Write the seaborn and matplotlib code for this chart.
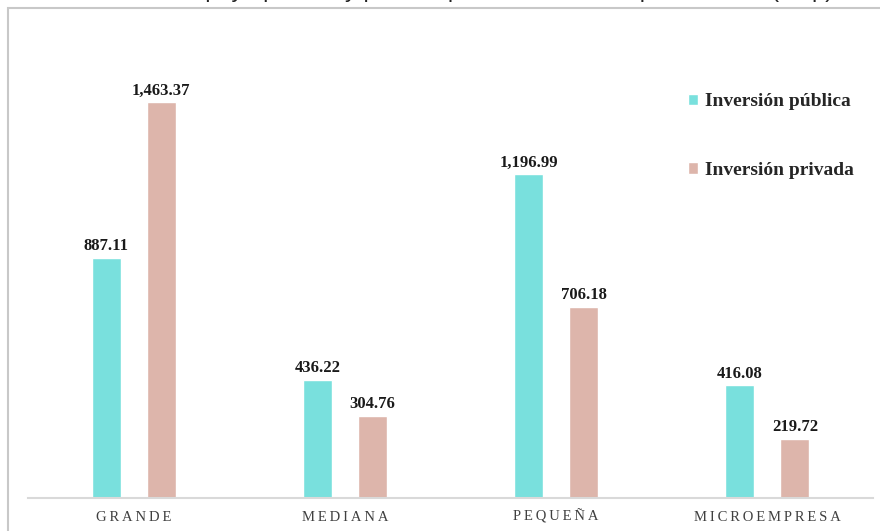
import matplotlib
matplotlib.use('Agg')
import matplotlib.pyplot as plt
import pandas as pd
import seaborn as sns
from matplotlib.patches import Rectangle

categorias = ['GRANDE', 'MEDIANA', 'PEQUEÑA', 'MICROEMPRESA']
publica = [887.11, 436.22, 1196.99, 416.08]
privada = [1463.37, 304.76, 706.18, 219.72]
series = ['Inversión pública', 'Inversión privada']
colores = ['#79E0DD', '#DDB5AB']

df = pd.DataFrame({
    'categoria': categorias * 2,
    'serie': [series[0]] * 4 + [series[1]] * 4,
    'monto': publica + privada,
})

sns.set_style('white')
serif = ['Liberation Serif', 'DejaVu Serif']

fig = plt.figure(figsize=(8.8, 5.31), dpi=100)
ax = fig.add_axes([28 / 880, 33 / 531, 845 / 880, 458 / 531])

sns.barplot(data=df, x='categoria', y='monto', hue='serie', hue_order=series,
            order=categorias, palette=colores, width=0.52, gap=0.47,
            saturation=1, ax=ax)

ax.set_xlim(-0.5, 3.5)
ax.set_ylim(0, 458 / 0.2706)

# etiquetas de valor
for p in ax.patches:
    h = p.get_height()
    if h > 0:
        ax.annotate(f'{h:,.2f}', xy=(p.get_x() + p.get_width() / 2, h),
                    xytext=(0, 2.5), textcoords='offset points',
                    ha='center', va='bottom', fontsize=12,
                    fontweight='bold', family=serif, color='#1a1a1a')

ax.set_xticks(range(len(categorias)))
ax.set_xticklabels(['\u2009'.join(c) for c in categorias], family=serif,
                   fontsize=10.5, color='#404040')
for t in ax.get_xticklabels():
    t.set_verticalalignment('baseline')
ax.tick_params(axis='x', length=0, pad=16.5)
ax.set_yticks([])
ax.set_xlabel('')
ax.set_ylabel('')
for s in ['top', 'left', 'right']:
    ax.spines[s].set_visible(False)
ax.spines['bottom'].set_color('#D9D9D9')
ax.spines['bottom'].set_linewidth(1.5)

leg = ax.legend(loc='upper left', bbox_to_anchor=(670 / 880, 1 - 76 / 531),
                bbox_transform=fig.transFigure, frameon=False,
                handlelength=0.55, handleheight=0.55, handletextpad=0.35,
                labelspacing=2.65, prop={'family': serif, 'weight': 'bold', 'size': 14})

# marco gris
fig.patches.append(Rectangle((8 / 880, -0.1), 1.0, 1 - 8 / 531 + 0.1,
                             transform=fig.transFigure, fill=False,
                             edgecolor='#C8C8C8', linewidth=1.5))

# titulo (recortado en la imagen original)
fig.text(454 / 880, 1.0 + 3 / 531, 'Montos de apoyo público y privado por tamaño de empresa, 2016 (mdp)',
         ha='center', va='baseline', fontsize=17, family='Liberation Sans', color='#222222')

fig.savefig('out.png', dpi=100)
